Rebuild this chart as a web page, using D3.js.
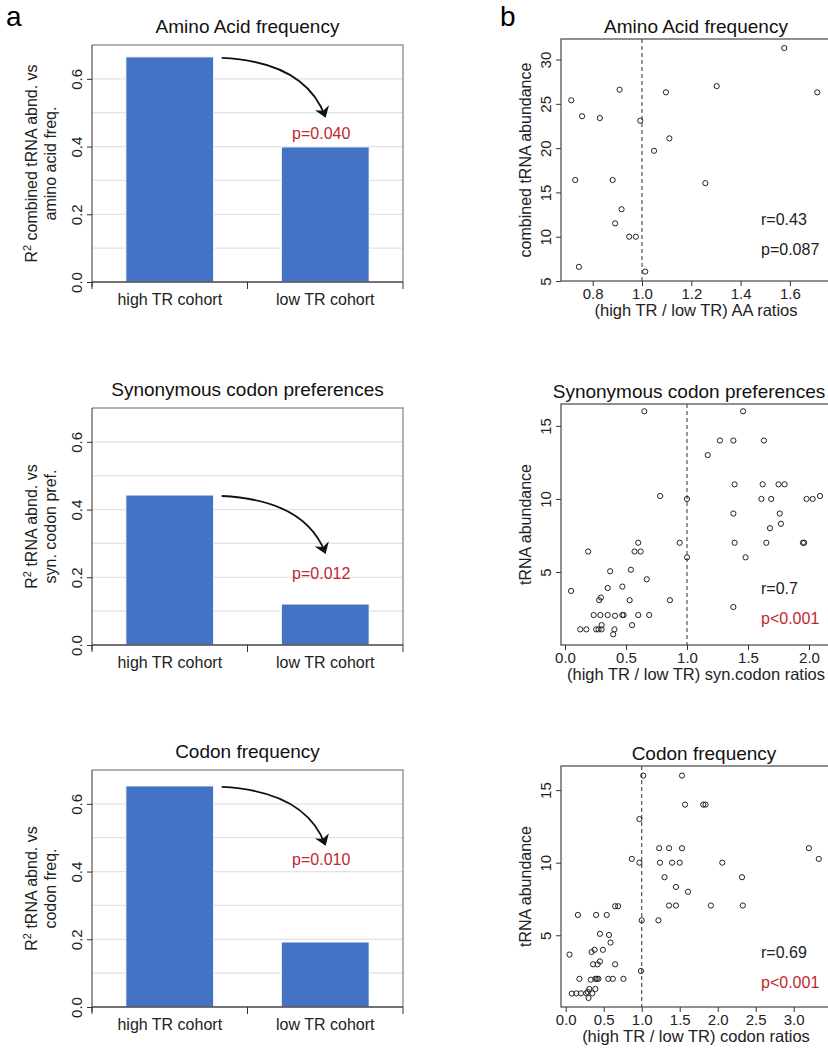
<!DOCTYPE html>
<html>
<head>
<meta charset="utf-8">
<script src="https://cdn.jsdelivr.net/npm/d3@7"></script>
<style>
  body { margin: 0; background: #fff; }
  svg { display: block; font-family: "Liberation Sans", Arial, Helvetica, sans-serif; }
</style>
</head>
<body>
<script>
// ---- data ----
var cohorts = ["high TR cohort", "low TR cohort"];
var aaR2 = [0.665, 0.399];
var synR2 = [0.443, 0.121];
var codonR2 = [0.653, 0.192];
var barPValues = ["p=0.040", "p=0.012", "p=0.010"];
var barTitles = ["Amino Acid frequency", "Synonymous codon preferences", "Codon frequency"];
var barYTicks = [0, 0.2, 0.4, 0.6];

var aaRatio = [0.713, 0.729, 0.744, 0.757, 0.829, 0.881, 0.891, 0.909, 0.917, 0.948,
  0.975, 0.993, 1.013, 1.049, 1.097, 1.111, 1.257, 1.303, 1.577, 1.711];
var aaAbund = [25.4, 16.4, 6.6, 23.6, 23.4, 16.4, 11.5, 26.6, 13.1, 10.0,
  10.0, 23.1, 6.06, 19.7, 26.3, 21.1, 16.05, 27.0, 31.3, 26.3];

var synRatio = [0.65, 1.46, 1.27, 1.38, 1.63, 1.17, 1.39, 1.62, 1.75, 1.80,
  0.78, 1.0, 1.61, 1.69, 1.98, 2.03, 2.09, 1.38, 1.76, 1.77,
  1.68, 0.60, 0.94, 1.39, 1.65, 1.95, 1.96, 0.19, 0.57, 0.62,
  1.0, 1.48, 0.37, 0.54, 0.67, 0.05, 0.35, 0.47, 0.28, 0.295,
  0.53, 0.86, 1.38, 0.235, 0.29, 0.35, 0.41, 0.47, 0.48, 0.60,
  0.69, 0.125, 0.175, 0.255, 0.275, 0.30, 0.30, 0.405, 0.395, 0.55];
var synAbund = [16, 16, 14, 14, 14, 13, 11, 11, 11, 11,
  10.2, 10, 10, 10, 10, 10, 10.2, 9, 9, 8.3,
  8, 7, 7, 7, 7, 7, 7, 6.4, 6.4, 6.4,
  6, 6, 5.05, 5.15, 4.5, 3.7, 3.9, 4.0, 3.07, 3.25,
  3.07, 3.07, 2.6, 2.05, 2.05, 2.05, 2.0, 2.05, 2.05, 2.05,
  2.05, 1.07, 1.07, 1.07, 1.07, 1.07, 1.36, 1.07, 0.73, 1.36];

var codonRatio = [1.02, 1.53, 1.57, 1.81, 1.84, 0.97, 1.23, 1.36, 1.53, 3.20,
  0.87, 0.97, 1.24, 1.40, 1.50, 2.06, 3.33, 1.30, 2.32, 1.45,
  1.61, 1.36, 1.45, 1.91, 2.33, 0.65, 0.69, 0.16, 0.40, 0.54,
  1.00, 1.22, 0.45, 0.57, 0.59, 0.05, 0.34, 0.38, 0.49, 0.45,
  0.36, 0.42, 0.65, 0.99, 0.18, 0.33, 0.39, 0.41, 0.43, 0.56,
  0.62, 0.76, 0.08, 0.14, 0.20, 0.27, 0.29, 0.35, 0.31, 0.30, 0.39];
var codonAbund = [16, 16, 14, 14, 14, 13, 11, 11, 11, 11,
  10.26, 10, 10, 10, 10, 10, 10.26, 9, 9, 8.33,
  8, 7.05, 7.05, 7.05, 7.05, 7, 7, 6.4, 6.4, 6.4,
  6.03, 6.03, 5.1, 5.02, 4.5, 3.67, 3.85, 4.0, 4.0, 3.2,
  3.0, 3.0, 3.0, 2.54, 2.0, 1.94, 2.0, 2.0, 2.0, 2.0,
  2.0, 2.0, 0.98, 1.0, 1.0, 1.0, 1.1, 1.0, 1.3, 0.68, 1.3];

var red = "#c1272d";
var blue = "#4472c4";

var svg = d3.select("body").append("svg").attr("width", 828).attr("height", 1050);

svg.append("defs").append("marker")
  .attr("id", "head")
  .attr("viewBox", "0 -7 10 14")
  .attr("markerUnits", "userSpaceOnUse")
  .attr("markerWidth", 11).attr("markerHeight", 15)
  .attr("refX", 9).attr("refY", 0)
  .attr("orient", "auto")
  .append("path").attr("d", "M0,-7L10,0L0,7L3,0Z").attr("fill", "#111");

svg.append("text").attr("x", 6).attr("y", 26).attr("font-size", 28).text("a");
svg.append("text").attr("x", 500).attr("y", 26).attr("font-size", 28).text("b");

// ---- bar panels ----
function drawBar(o) {
  var left = 92, right = 403, top = o.top, bottom = o.top + 237;
  var x = d3.scaleBand().domain(cohorts).range([left, right]);
  var y = d3.scaleLinear().domain([0, 0.7]).range([bottom, top]);
  var g = svg.append("g");

  g.selectAll(".grid").data(d3.range(1, 7).map(function(i) { return i / 10; }))
    .enter().append("line")
    .attr("x1", left).attr("x2", right)
    .attr("y1", function(d) { return y(d); }).attr("y2", function(d) { return y(d); })
    .attr("stroke", "#e2e2e2").attr("stroke-width", 1.2);

  g.append("path")
    .attr("d", "M" + left + "," + top + "H" + right + "V" + bottom)
    .attr("fill", "none").attr("stroke", "#999").attr("stroke-width", 1.5);

  var bw = x.bandwidth() * 0.565;
  g.selectAll(".bar").data(o.values).enter().append("rect")
    .attr("x", function(d, i) { return x(cohorts[i]) + (x.bandwidth() - bw) / 2; })
    .attr("width", bw)
    .attr("y", function(d) { return y(d); })
    .attr("height", function(d) { return y(0) - y(d); })
    .attr("fill", blue).attr("stroke", "#fff").attr("stroke-width", 1);

  var ya = g.append("g").attr("transform", "translate(" + left + ",0)")
    .call(d3.axisLeft(y).tickValues(barYTicks).tickSize(5).tickFormat(d3.format(".1f")));
  ya.select(".domain").attr("d", "M0," + top + "V" + (bottom + 5)).attr("stroke", "#333");
  ya.selectAll("line").attr("stroke", "#333");
  ya.selectAll("text").attr("transform", "rotate(-90)").attr("x", 0).attr("y", -10)
    .attr("dy", 0).style("text-anchor", "middle").attr("font-size", 15).attr("fill", "#222")
    .attr("font-family", "Liberation Sans, Arial, sans-serif");

  g.append("line").attr("x1", left).attr("x2", right).attr("y1", bottom).attr("y2", bottom)
    .attr("stroke", "#444").attr("stroke-width", 1.5);
  var edges = [left, x(cohorts[1]), right];
  g.selectAll(".xt").data(edges).enter().append("line")
    .attr("x1", function(d) { return d; }).attr("x2", function(d) { return d; })
    .attr("y1", bottom).attr("y2", bottom + 7).attr("stroke", "#333");
  g.selectAll(".xl").data(cohorts).enter().append("text")
    .attr("x", function(d) { return x(d) + x.bandwidth() / 2; })
    .attr("y", bottom + 23)
    .attr("text-anchor", "middle").attr("font-size", 16).attr("fill", "#222")
    .text(function(d) { return d; });

  g.append("text").attr("x", (left + right) / 2).attr("y", top - 12)
    .attr("text-anchor", "middle").attr("font-size", 19).attr("fill", "#111").text(o.title);

  var cy = top + 237 / 2;
  var t1 = g.append("text").attr("transform", "translate(37," + cy + ") rotate(-90)")
    .attr("text-anchor", "middle").attr("font-size", 16).attr("fill", "#222");
  t1.append("tspan").text("R");
  t1.append("tspan").attr("dy", -6).attr("font-size", 11).text("2");
  t1.append("tspan").attr("dy", 6).text(" " + o.ylab1);
  g.append("text").attr("transform", "translate(56," + cy + ") rotate(-90)")
    .attr("text-anchor", "middle").attr("font-size", 16).attr("fill", "#222").text(o.ylab2);

  // arrow from high to low cohort
  var x0 = x(cohorts[0]) + (x.bandwidth() + bw) / 2 + 8, y0 = y(o.values[0]) + 1;
  var x1 = x(cohorts[1]) + x.bandwidth() / 2, y1 = y(o.arrowEnd);
  g.append("path")
    .attr("d", "M" + x0 + "," + y0 + "Q" + (x1 - 20) + "," + (y0 + 4) + " " + x1 + "," + y1)
    .attr("fill", "none").attr("stroke", "#111").attr("stroke-width", 1.8)
    .attr("marker-end", "url(#head)");

  g.append("text").attr("x", x1 - 4).attr("y", y(o.pAt))
    .attr("text-anchor", "middle").attr("font-size", 16).attr("fill", red).text(o.p);
}

drawBar({ top: 45, values: aaR2, title: barTitles[0], ylab1: "combined tRNA abnd. vs",
  ylab2: "amino acid freq.", p: barPValues[0], pAt: 0.423, arrowEnd: 0.488 });
drawBar({ top: 408, values: synR2, title: barTitles[1], ylab1: "tRNA abnd. vs",
  ylab2: "syn. codon pref.", p: barPValues[1], pAt: 0.195, arrowEnd: 0.272 });
drawBar({ top: 770, values: codonR2, title: barTitles[2], ylab1: "tRNA abnd. vs",
  ylab2: "codon freq.", p: barPValues[2], pAt: 0.42, arrowEnd: 0.479 });

// ---- scatter panels ----
function drawScatter(o) {
  var left = 561, right = 845, top = o.top, bottom = o.bottom;
  var x = d3.scaleLinear().domain(o.xDomain).range([left, right]);
  var y = d3.scaleLinear().domain(o.yDomain).range([bottom, top]);
  var g = svg.append("g");

  g.append("rect").attr("x", left).attr("y", top).attr("width", right - left)
    .attr("height", bottom - top).attr("fill", "none").attr("stroke", "#555").attr("stroke-width", 1.3);

  g.append("line").attr("x1", x(1)).attr("x2", x(1)).attr("y1", top).attr("y2", bottom)
    .attr("stroke", "#444").attr("stroke-width", 1.1).attr("stroke-dasharray", "4,3");

  g.selectAll("circle").data(o.xs).enter().append("circle")
    .attr("cx", function(d) { return x(d); })
    .attr("cy", function(d, i) { return y(o.ys[i]); })
    .attr("r", 2.6).attr("fill", "none").attr("stroke", "#222").attr("stroke-width", 1);

  var xa = g.append("g").attr("transform", "translate(0," + bottom + ")")
    .call(d3.axisBottom(x).tickValues(o.xTicks).tickSize(5).tickFormat(d3.format(".1f")));
  xa.select(".domain").remove();
  xa.selectAll("line").attr("stroke", "#333");
  xa.selectAll("text").attr("y", 7).attr("font-size", 15).attr("fill", "#222")
    .attr("font-family", "Liberation Sans, Arial, sans-serif");

  var ya = g.append("g").attr("transform", "translate(" + left + ",0)")
    .call(d3.axisLeft(y).tickValues(o.yTicks).tickSize(5));
  ya.select(".domain").remove();
  ya.selectAll("line").attr("stroke", "#333");
  ya.selectAll("text").attr("transform", "rotate(-90)").attr("x", 0).attr("y", -10)
    .attr("dy", 0).style("text-anchor", "middle").attr("font-size", 15).attr("fill", "#222")
    .attr("font-family", "Liberation Sans, Arial, sans-serif");

  g.append("text").attr("x", o.titleX).attr("y", top - 6)
    .attr("text-anchor", "middle").attr("font-size", 19).attr("fill", "#111").text(o.title);
  g.append("text").attr("x", 696).attr("y", bottom + 35)
    .attr("text-anchor", "middle").attr("font-size", 16.5).attr("fill", "#222").text(o.xlab);
  g.append("text").attr("transform", "translate(531," + (top + bottom) / 2 + ") rotate(-90)")
    .attr("text-anchor", "middle").attr("font-size", 16).attr("fill", "#222").text(o.ylab);

  g.append("text").attr("x", 761).attr("y", o.rY).attr("font-size", 16).attr("fill", "#222").text(o.r);
  g.append("text").attr("x", 761).attr("y", o.rY + 30).attr("font-size", 16)
    .attr("fill", o.pRed ? red : "#222").text(o.p);
}

drawScatter({ top: 39, bottom: 281, xDomain: [0.6714, 1.8235], yDomain: [5, 32.32],
  xTicks: [0.8, 1.0, 1.2, 1.4, 1.6], yTicks: [5, 10, 15, 20, 25, 30],
  xs: aaRatio, ys: aaAbund, title: "Amino Acid frequency", titleX: 696,
  xlab: "(high TR / low TR) AA ratios", ylab: "combined tRNA abundance",
  r: "r=0.43", p: "p=0.087", pRed: false, rY: 225 });
drawScatter({ top: 404, bottom: 645, xDomain: [-0.0328, 2.295], yDomain: [0, 16.5],
  xTicks: [0, 0.5, 1.0, 1.5, 2.0], yTicks: [5, 10, 15],
  xs: synRatio, ys: synAbund, title: "Synonymous codon preferences", titleX: 689,
  xlab: "(high TR / low TR) syn.codon ratios", ylab: "tRNA abundance",
  r: "r=0.7", p: "p<0.001", pRed: true, rY: 594 });
drawScatter({ top: 766, bottom: 1007, xDomain: [-0.062, 3.675], yDomain: [0.06, 16.66],
  xTicks: [0, 0.5, 1.0, 1.5, 2.0, 2.5, 3.0], yTicks: [5, 10, 15],
  xs: codonRatio, ys: codonAbund, title: "Codon frequency", titleX: 704,
  xlab: "(high TR / low TR) codon ratios", ylab: "tRNA abundance",
  r: "r=0.69", p: "p<0.001", pRed: true, rY: 958 });
</script>
</body>
</html>
